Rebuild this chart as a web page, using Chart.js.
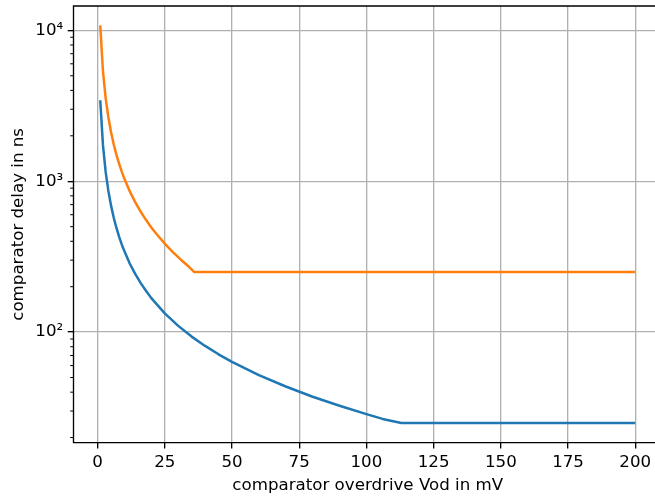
<!DOCTYPE html>
<html><head><meta charset="utf-8">
<script src="https://cdn.jsdelivr.net/npm/chart.js@4.4.0/dist/chart.umd.min.js"></script>
<style>html,body{margin:0;padding:0;overflow:hidden;background:#fff;width:655px;height:498px}canvas{display:block}</style>
</head><body>
<canvas id="c" width="665" height="498"></canvas>
<script>
// comparator overdrive (mV) and delay (ns)
const blueX = [1,2,3,4,5,6,7,8,9,10,12,14,16,18,20,25,30,35,40,45,50,60,70,80,90,100,106,113,200];
const blueY = [3440,1740,1157,866,692,575,492,430,381,343,284,243,212,188,168,133,110,93.4,81,71.3,63.5,51.9,43.6,37.3,32.5,28.6,26.6,25,25];
const orangeX = [1,2,3,4,5,6,7,8,9,10,12,14,16,18,20,22,25,28,31,34,36,200];
const orangeY = [10800,5377,3569,2664,2122,1760,1502,1308,1158,1037,856,727,630,555,494,445,386,339,302,271,250,250];
const xTicks = [0,25,50,75,100,125,150,175,200];
const yMajor = [100,1000,10000];
const yMajorLabels = ['10²','10³','10⁴'];
const yMinor = [20,30,40,50,60,70,80,90,200,300,400,500,600,700,800,900,2000,3000,4000,5000,6000,7000,8000,9000];
const xTitle = 'comparator overdrive Vod in mV';
const yTitle = 'comparator delay in ns';

const FONT = {family:'"DejaVu Sans"', size:16.67};
const isMajor = v => yMajor.includes(v);

const spines = {
  id:'spines',
  afterDraw(chart){
    const {ctx, chartArea:a, scales:{y}} = chart;
    ctx.save();
    ctx.strokeStyle = '#000';
    ctx.lineWidth = 1.33;
    ctx.beginPath();
    ctx.moveTo(a.left, a.bottom); ctx.lineTo(a.left, a.top); ctx.lineTo(a.right, a.top); ctx.lineTo(a.right, a.bottom); ctx.closePath();
    ctx.stroke();
    ctx.lineWidth = 1;
    ctx.beginPath();
    yMinor.forEach(v => { const p = y.getPixelForValue(v); ctx.moveTo(a.left - 3.3, p); ctx.lineTo(a.left, p); });
    ctx.stroke();
    ctx.restore();
  }
};

const mk = (xs, ys) => xs.map((x,i) => ({x, y: ys[i]}));

new Chart(document.getElementById('c'), {
  type:'line',
  data:{datasets:[
    {data:mk(blueX, blueY), borderColor:'#1f77b4', borderWidth:2.5, pointRadius:0, tension:0, fill:false, borderJoinStyle:'round'},
    {data:mk(orangeX, orangeY), borderColor:'#ff7f0e', borderWidth:2.5, pointRadius:0, tension:0, fill:false, borderJoinStyle:'round'}
  ]},
  options:{
    responsive:false, animation:false, devicePixelRatio:1,
    layout:{padding:{left:0, right:3, top:6, bottom:0}},
    plugins:{legend:{display:false}, tooltip:{enabled:false}},
    scales:{
      x:{
        type:'linear', min:-8.95, max:209.95,
        afterBuildTicks: s => { s.ticks = xTicks.map(v => ({value:v})); },
        afterFit: s => { s.height = 55.3; s.paddingLeft = 0; s.paddingRight = 0; },
        grid:{color:'#b0b0b0', lineWidth:1.33, tickColor:'#000', tickLength:5.8, tickWidth:1.33},
        border:{display:false},
        ticks:{font:FONT, color:'#000', padding:4, maxRotation:0, autoSkip:false, callback: v => String(v)},
        title:{display:true, text:xTitle, font:FONT, color:'#000', padding:{top:0, bottom:2}}
      },
      y:{
        type:'logarithmic', min:18.5, max:14500,
        afterBuildTicks: s => { s.ticks = yMajor.concat(yMinor).sort((a,b)=>a-b).map(v => ({value:v})); },
        afterFit: s => { s.width = 73.5; s.paddingTop = 0; s.paddingBottom = 0; },
        grid:{color: c => (c.tick && isMajor(c.tick.value)) ? '#b0b0b0' : 'rgba(0,0,0,0)', lineWidth:1.33,
              tickColor: c => (c.tick && isMajor(c.tick.value)) ? '#000' : 'rgba(0,0,0,0)', tickLength:5.8, tickWidth:1.33},
        border:{display:false},
        ticks:{font:FONT, color:'#000', padding:4.5, autoSkip:false, callback: v => isMajor(v) ? yMajorLabels[yMajor.indexOf(v)] : ''},
        title:{display:true, text:yTitle, font:FONT, color:'#000', padding:{top:9, bottom:0}}
      }
    }
  },
  plugins:[spines]
});
</script>
</body></html>
